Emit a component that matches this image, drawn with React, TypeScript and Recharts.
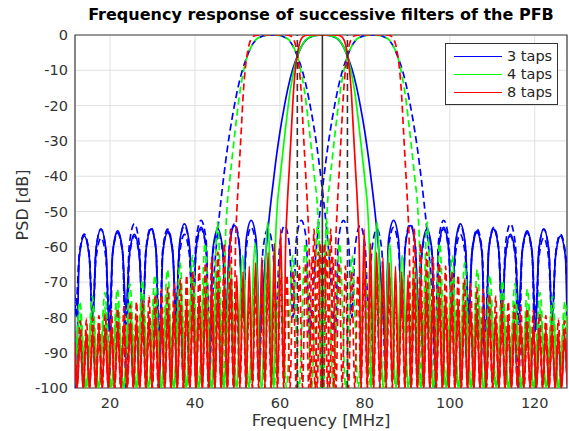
import React from 'react';
import {
  LineChart,
  Line,
  XAxis,
  YAxis,
  CartesianGrid,
  ReferenceLine,
  ReferenceArea,
  Legend,
} from 'recharts';

const FONT = '"DejaVu Sans", sans-serif';
const TEXT = '#333333';

// axes
const xDomain = [11.75, 127.6];
const xTicks = [20, 40, 60, 80, 100, 120];
const yTicks = [0, -10, -20, -30, -40, -50, -60, -70, -80, -90, -100];

// PFB channels: left neighbour, centre, right neighbour (MHz)
const channelCentres = [58.2, 70, 81.8];
const channelBoundaries = [64.1, 75.9];

const tapLabels = ['3 taps', '4 taps', '8 taps'];
const tapColours = ['#0000ff', '#00ff00', '#ff0000'];

// main lobe, one side: offset from channel centre (MHz) and level (dB)
const mainOffset3 = [0, 1.5, 3, 4, 5, 5.9, 7, 8, 9, 10, 11, 12, 12.8, 13.6, 14.3];
const mainDb3 = [0, -0.1, -0.7, -1.6, -3.4, -6, -9.8, -14.5, -20.5, -27.5, -36, -46, -55, -66, -79];
const mainOffset4 = [0, 1.5, 3, 4, 5, 5.9, 6.8, 7.6, 8.4, 9.2, 10, 10.7, 11.1];
const mainDb4 = [0, -0.1, -0.6, -1.5, -3.4, -6, -10.5, -16, -23.5, -32, -41, -50, -62];
const mainOffset8 = [0, 3, 4, 4.8, 5.4, 5.9, 6.3, 6.8, 7.3, 7.8, 8.3, 8.7];
const mainDb8 = [0, 0, -0.15, -0.8, -2.5, -5.5, -9, -16, -27, -38, -49, -62];

// sidelobes: first null offset, lobe width, peak level of each lobe, null depths
const firstNull3 = 14.8;
const lobe3 = 3.93;
const peakDb3 = [-52.5, -54, -55, -54.5, -53.5, -56, -55, -56.5, -55.5, -55, -57, -56, -57.5, -56.5, -58];
const shoulderDb3 = [-58, -60, -61, -60.5, -59.5, -62, -61, -62.5, -61.5, -61, -63, -62, -63.5, -62.5, -64];
const nullDb3 = [-86, -80, -78, -96, -79, -82, -100, -80, -78, -84, -81, -100, -79, -82, -80, -85];

const firstNull4 = 11.4;
const lobe4 = 2.95;
const peakDb4 = [
  -53, -59, -62.5, -64.5, -66.5, -68, -69.5, -70.5, -72, -73, -74, -75.5, -76, -77, -77.5, -78.5,
  -79, -80, -80.5, -81, -81.5,
];

const firstNull8 = 9.1;
const lobe8 = 1.475;
const peakDb8 = [
  -55, -59, -61.5, -63, -64.5, -65.5, -67, -68, -69, -70.5, -71.5, -72, -73.5, -74, -75, -75.5,
  -76.5, -77, -77.5, -78, -79, -79.5, -80, -80.5, -81, -81.5, -82, -82.5, -83, -83, -83.5, -84,
  -84.5, -85, -85, -85.5, -86, -86, -86.5, -87, -87, -87.5, -88, -88,
];
const floorDb = -100;

type Pt = { f: number; db: number };

function oneSided(
  mainOff: number[],
  mainDb: number[],
  firstNull: number,
  lobe: number,
  peaks: number[],
  nulls: number[] | null,
  shoulders: number[] | null
): [number, number][] {
  const pts: [number, number][] = mainOff.map((o, i) => [o, mainDb[i]]);
  for (let i = 0; i <= peaks.length; i++) {
    const start = firstNull + i * lobe;
    pts.push([start, nulls ? nulls[i] : floorDb]);
    if (i < peaks.length) {
      if (shoulders) pts.push([start + 0.2 * lobe, shoulders[i]]);
      pts.push([start + 0.5 * lobe, peaks[i]]);
      if (shoulders) pts.push([start + 0.8 * lobe, shoulders[i]]);
    }
  }
  return pts;
}

function filterCurve(shape: [number, number][], centre: number): Pt[] {
  const left = shape
    .slice(1)
    .map(([o, d]) => ({ f: centre - o, db: d }))
    .reverse();
  const right = shape.map(([o, d]) => ({ f: centre + o, db: d }));
  return [...left, ...right];
}

const responses = [
  oneSided(mainOffset3, mainDb3, firstNull3, lobe3, peakDb3, nullDb3, shoulderDb3),
  oneSided(mainOffset4, mainDb4, firstNull4, lobe4, peakDb4, null, null),
  oneSided(mainOffset8, mainDb8, firstNull8, lobe8, peakDb8, null, null),
];

const LegendBox = (props: any) => {
  const items = (props.payload || []).filter((p: any) => p.type !== 'none');
  return (
    <div
      style={{
        border: '1.5px solid #333',
        background: '#fff',
        padding: '3px 5px 3px 8px',
        fontFamily: FONT,
        fontSize: 14.5,
        color: '#262626',
        lineHeight: '18px',
      }}
    >
      {items.map((p: any) => (
        <div key={p.value} style={{ display: 'flex', alignItems: 'center', height: 18 }}>
          <span
            style={{ display: 'inline-block', width: 48, borderTop: `1.7px solid ${p.color}`, marginRight: 5 }}
          />
          <span>{p.value}</span>
        </div>
      ))}
    </div>
  );
};

export default function App() {
  return (
    <div style={{ position: 'relative', width: 569, height: 431, background: '#fff', fontFamily: FONT }}>
      <style>{'body{margin:0}'}</style>
      <div
        style={{
          position: 'absolute',
          left: 75,
          width: 492,
          top: 5,
          textAlign: 'center',
          fontWeight: 'bold',
          fontSize: 16,
          color: '#000',
          whiteSpace: 'nowrap',
        }}
      >
        Frequency response of successive filters of the PFB
      </div>
      <div
        style={{
          position: 'absolute',
          left: 22,
          top: 205,
          transform: 'translate(-50%, -50%) rotate(-90deg)',
          fontSize: 16,
          color: TEXT,
          whiteSpace: 'nowrap',
        }}
      >
        PSD [dB]
      </div>
      <div
        style={{
          position: 'absolute',
          left: 75,
          width: 492,
          top: 411,
          textAlign: 'center',
          fontSize: 16.5,
          color: TEXT,
          whiteSpace: 'nowrap',
        }}
      >
        Frequency [MHz]
      </div>
      <LineChart width={569} height={431} margin={{ top: 35, right: 2, bottom: 0, left: 0 }}>
        <CartesianGrid stroke="#e0e0e0" strokeWidth={1} />
        <XAxis
          dataKey="f"
          type="number"
          domain={xDomain}
          ticks={xTicks}
          interval={0}
          allowDataOverflow
          axisLine={false}
          tickLine={false}
          tickSize={0}
          tickMargin={10}
          height={43}
          tick={{ fill: TEXT, fontSize: 14.5, fontFamily: FONT }}
        />
        <YAxis
          type="number"
          domain={[-100, 0]}
          ticks={yTicks}
          interval={0}
          allowDataOverflow
          axisLine={false}
          tickLine={false}
          tickSize={0}
          tickMargin={7}
          width={75}
          tick={{ fill: TEXT, fontSize: 14.5, fontFamily: FONT }}
        />
        {responses.map((shape, t) =>
          channelCentres.map((centre, c) => (
            <Line
              key={`${t}-${c}`}
              data={filterCurve(shape, centre)}
              dataKey="db"
              name={tapLabels[t]}
              type="monotone"
              stroke={tapColours[t]}
              strokeWidth={1.7}
              strokeDasharray={c === 1 ? undefined : '7 4'}
              dot={false}
              activeDot={false}
              legendType={c === 1 ? 'line' : 'none'}
              isAnimationActive={false}
            />
          ))
        )}
        {channelBoundaries.map((b) => (
          <ReferenceLine key={b} x={b} stroke="#333" strokeWidth={1.6} strokeDasharray="7 4" />
        ))}
        <ReferenceLine x={channelCentres[1]} stroke="#333" strokeWidth={1.6} />
        <ReferenceArea
          x1={xDomain[0]}
          x2={xDomain[1]}
          y1={-100}
          y2={0}
          fill="none"
          fillOpacity={0}
          stroke="#404040"
          strokeWidth={1.2}
        />
        <Legend
          layout="vertical"
          align="center"
          verticalAlign="middle"
          wrapperStyle={{ left: 445, top: 43 }}
          content={<LegendBox />}
        />
      </LineChart>
    </div>
  );
}
